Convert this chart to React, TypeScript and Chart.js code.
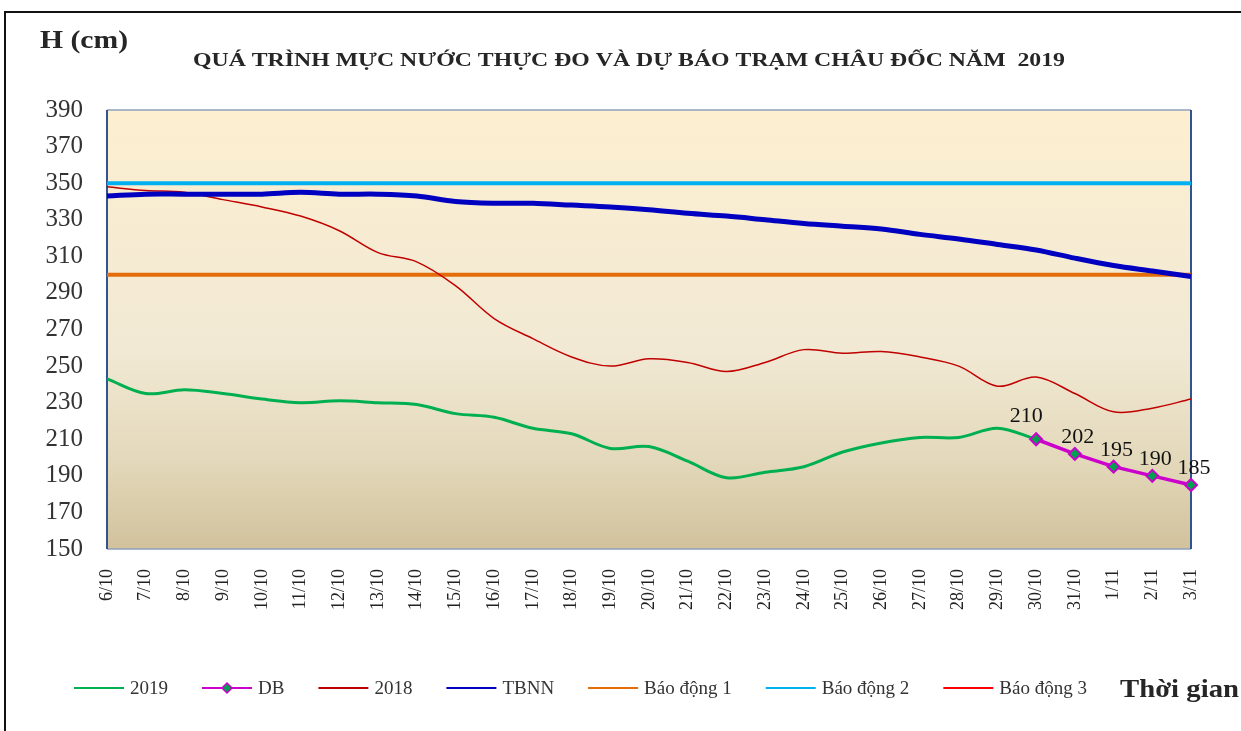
import React, { useEffect, useRef } from "react";
import { Chart, registerables } from "chart.js";

Chart.register(...registerables);

const categories = [
  "6/10", "7/10", "8/10", "9/10", "10/10", "11/10", "12/10", "13/10", "14/10", "15/10",
  "16/10", "17/10", "18/10", "19/10", "20/10", "21/10", "22/10", "23/10", "24/10", "25/10",
  "26/10", "27/10", "28/10", "29/10", "30/10", "31/10", "1/11", "2/11", "3/11",
];

const series2019 = [
  243, 235, 237, 235, 232, 230, 231, 230, 229, 224, 222, 216, 213, 205, 206, 198, 189, 192, 195,
  203, 208, 211, 211, 216, 210, null, null, null, null,
];

const seriesDB = [
  null, null, null, null, null, null, null, null, null, null, null, null, null, null, null, null,
  null, null, null, null, null, null, null, null, 210, 202, 195, 190, 185,
];

const series2018 = [
  348, 346, 345, 341, 337, 332, 324, 312, 307, 294, 276, 265, 255, 250, 254, 252, 247, 252, 259,
  257, 258, 255, 250, 239, 244, 235, 225, 227, 232,
];

const seriesTBNN = [
  343, 344, 344, 344, 344, 345, 344, 344, 343, 340, 339, 339, 338, 337, 335.5, 333.5, 332, 330,
  328, 326.5, 325, 322, 319.5, 316.5, 313.5, 309, 305, 302, 299,
];

const alarm1 = categories.map(() => 300);
const alarm2 = categories.map(() => 350);
const alarm3 = categories.map(() => 400);

const yMin = 150;
const yMax = 390;
const yStep = 20;

const titleText = "QUÁ TRÌNH MỰC NƯỚC THỰC ĐO VÀ DỰ BÁO TRẠM CHÂU ĐỐC NĂM  2019";
const yTitle = "H (cm)";
const xTitle = "Thời gian";

const SERIF = "'Liberation Serif', 'Times New Roman', serif";

function fitText(ctx: any, text: string, x: number, y: number, width: number, size: number, weight: string) {
  ctx.font = `${weight} ${size}px ${SERIF}`;
  const w = ctx.measureText(text).width;
  ctx.save();
  ctx.translate(x, y);
  ctx.scale(width / w, 1);
  ctx.fillText(text, 0, 0);
  ctx.restore();
}

const decorPlugin = {
  id: "decor",
  beforeDraw(chart: any) {
    const { ctx, chartArea } = chart;
    const { left, top, right, bottom } = chartArea;
    ctx.save();
    ctx.fillStyle = "#ffffff";
    ctx.fillRect(0, 0, chart.width, chart.height);
    ctx.strokeStyle = "#111";
    ctx.lineWidth = 2;
    ctx.beginPath();
    ctx.moveTo(5, chart.height);
    ctx.lineTo(5, 12);
    ctx.lineTo(chart.width, 12);
    ctx.stroke();
    const g = ctx.createLinearGradient(0, top, 0, bottom);
    g.addColorStop(0, "#FDEFD0");
    g.addColorStop(0.55, "#F1E9D4");
    g.addColorStop(0.8, "#E3D8BA");
    g.addColorStop(1, "#D1C29C");
    ctx.fillStyle = g;
    ctx.fillRect(left, top, right - left, bottom - top);
    ctx.fillStyle = "#262626";
    ctx.textBaseline = "alphabetic";
    ctx.textAlign = "left";
    fitText(ctx, titleText, 193, 66, 872, 18, "bold");
    fitText(ctx, yTitle, 40, 48, 88, 25, "bold");
    ctx.restore();
  },
  beforeDatasetsDraw(chart: any) {
    const { ctx, chartArea } = chart;
    const { left, top, right, bottom } = chartArea;
    ctx.save();
    ctx.lineWidth = 1.5;
    ctx.strokeStyle = "#8FA0BC";
    ctx.beginPath();
    ctx.moveTo(left, top);
    ctx.lineTo(right, top);
    ctx.moveTo(left, bottom);
    ctx.lineTo(right, bottom);
    ctx.stroke();
    ctx.strokeStyle = "#2F548F";
    ctx.lineWidth = 2;
    ctx.beginPath();
    ctx.moveTo(left, top);
    ctx.lineTo(left, bottom);
    ctx.moveTo(right, top);
    ctx.lineTo(right, bottom);
    ctx.stroke();
    ctx.restore();
  },
  afterDraw(chart: any) {
    const { ctx } = chart;
    ctx.save();
    const dbIndex = 1;
    const meta = chart.getDatasetMeta(dbIndex);
    const dbData = chart.data.datasets[dbIndex].data;
    ctx.font = `22px ${SERIF}`;
    ctx.fillStyle = "#111";
    ctx.textAlign = "center";
    ctx.textBaseline = "alphabetic";
    meta.data.forEach((pt: any, i: number) => {
      const v = dbData[i];
      if (v === null || v === undefined) return;
      ctx.fillText(String(v), pt.x + (i === 24 ? -10 : 3), pt.y - (i === 24 ? 17 : 11));
    });
    const ly = 688;
    let x = 74;
    ctx.font = `19px ${SERIF}`;
    ctx.textAlign = "left";
    ctx.textBaseline = "middle";
    chart.data.datasets.forEach((ds: any) => {
      ctx.strokeStyle = ds.borderColor;
      ctx.lineWidth = 2;
      ctx.beginPath();
      ctx.moveTo(x, ly);
      ctx.lineTo(x + 50, ly);
      ctx.stroke();
      if (ds.pointRadius && ds.pointRadius > 0) {
        const cx = x + 25;
        const r = 5;
        ctx.fillStyle = ds.pointBackgroundColor;
        ctx.strokeStyle = ds.pointBorderColor;
        ctx.lineWidth = 1.5;
        ctx.beginPath();
        ctx.moveTo(cx, ly - r);
        ctx.lineTo(cx + r, ly);
        ctx.lineTo(cx, ly + r);
        ctx.lineTo(cx - r, ly);
        ctx.closePath();
        ctx.fill();
        ctx.stroke();
      }
      ctx.fillStyle = "#333";
      ctx.fillText(ds.label, x + 56, ly + 1);
      x = x + 56 + ctx.measureText(ds.label).width + 34;
    });
    ctx.fillStyle = "#262626";
    ctx.textBaseline = "alphabetic";
    fitText(ctx, xTitle, 1120, 697, 119, 26, "bold");
    ctx.restore();
  },
};

export default function App() {
  const ref = useRef<HTMLCanvasElement | null>(null);

  useEffect(() => {
    document.body.style.margin = "0";
    const canvas = ref.current;
    if (!canvas) return;
    const chart = new Chart(canvas, {
      type: "line",
      data: {
        labels: categories,
        datasets: [
          { label: "2019", data: series2019, borderColor: "#00B050", borderWidth: 3, pointRadius: 0, tension: 0.35, order: 2 },
          {
            label: "DB",
            data: seriesDB,
            borderColor: "#CC00CC",
            borderWidth: 3.5,
            pointRadius: 6,
            pointHoverRadius: 6,
            pointStyle: "rectRot",
            pointBackgroundColor: "#00A050",
            pointBorderColor: "#CC00CC",
            pointBorderWidth: 2,
            tension: 0,
            order: 0,
          },
          { label: "2018", data: series2018, borderColor: "#C00000", borderWidth: 1.5, pointRadius: 0, tension: 0.35, order: 3 },
          { label: "TBNN", data: seriesTBNN, borderColor: "#0000C0", borderWidth: 5, pointRadius: 0, tension: 0.35, order: 1 },
          { label: "Báo động 1", data: alarm1, borderColor: "#E46C0A", borderWidth: 4, pointRadius: 0, order: 4 },
          { label: "Báo động 2", data: alarm2, borderColor: "#00B0F0", borderWidth: 4, pointRadius: 0, order: 5 },
          { label: "Báo động 3", data: alarm3, borderColor: "#FF0000", borderWidth: 2, pointRadius: 0, order: 6 },
        ],
      },
      options: {
        responsive: false,
        animation: false,
        events: [],
        layout: { padding: { left: 0, right: 50, top: 110, bottom: 0 } },
        plugins: {
          legend: { display: false },
          title: { display: false },
          tooltip: { enabled: false },
        },
        scales: {
          x: {
            offset: false,
            grid: { display: false, drawTicks: false },
            border: { display: false },
            ticks: {
              autoSkip: false,
              maxRotation: 90,
              minRotation: 90,
              padding: 20,
              color: "#222",
              font: { family: SERIF, size: 18 },
            },
            afterFit(scale: any) {
              scale.height = 182;
            },
          },
          y: {
            min: yMin,
            max: yMax,
            grid: { display: false, drawTicks: false },
            border: { display: false },
            ticks: {
              stepSize: yStep,
              padding: 24,
              color: "#333",
              font: { family: SERIF, size: 25 },
            },
            afterFit(scale: any) {
              scale.width = 107;
            },
          },
        },
      },
      plugins: [decorPlugin],
    });
    return () => chart.destroy();
  }, []);

  return (
    <div style={{ width: 1241, height: 731 }}>
      <canvas ref={ref} width={1241} height={731} style={{ display: "block" }} />
    </div>
  );
}
